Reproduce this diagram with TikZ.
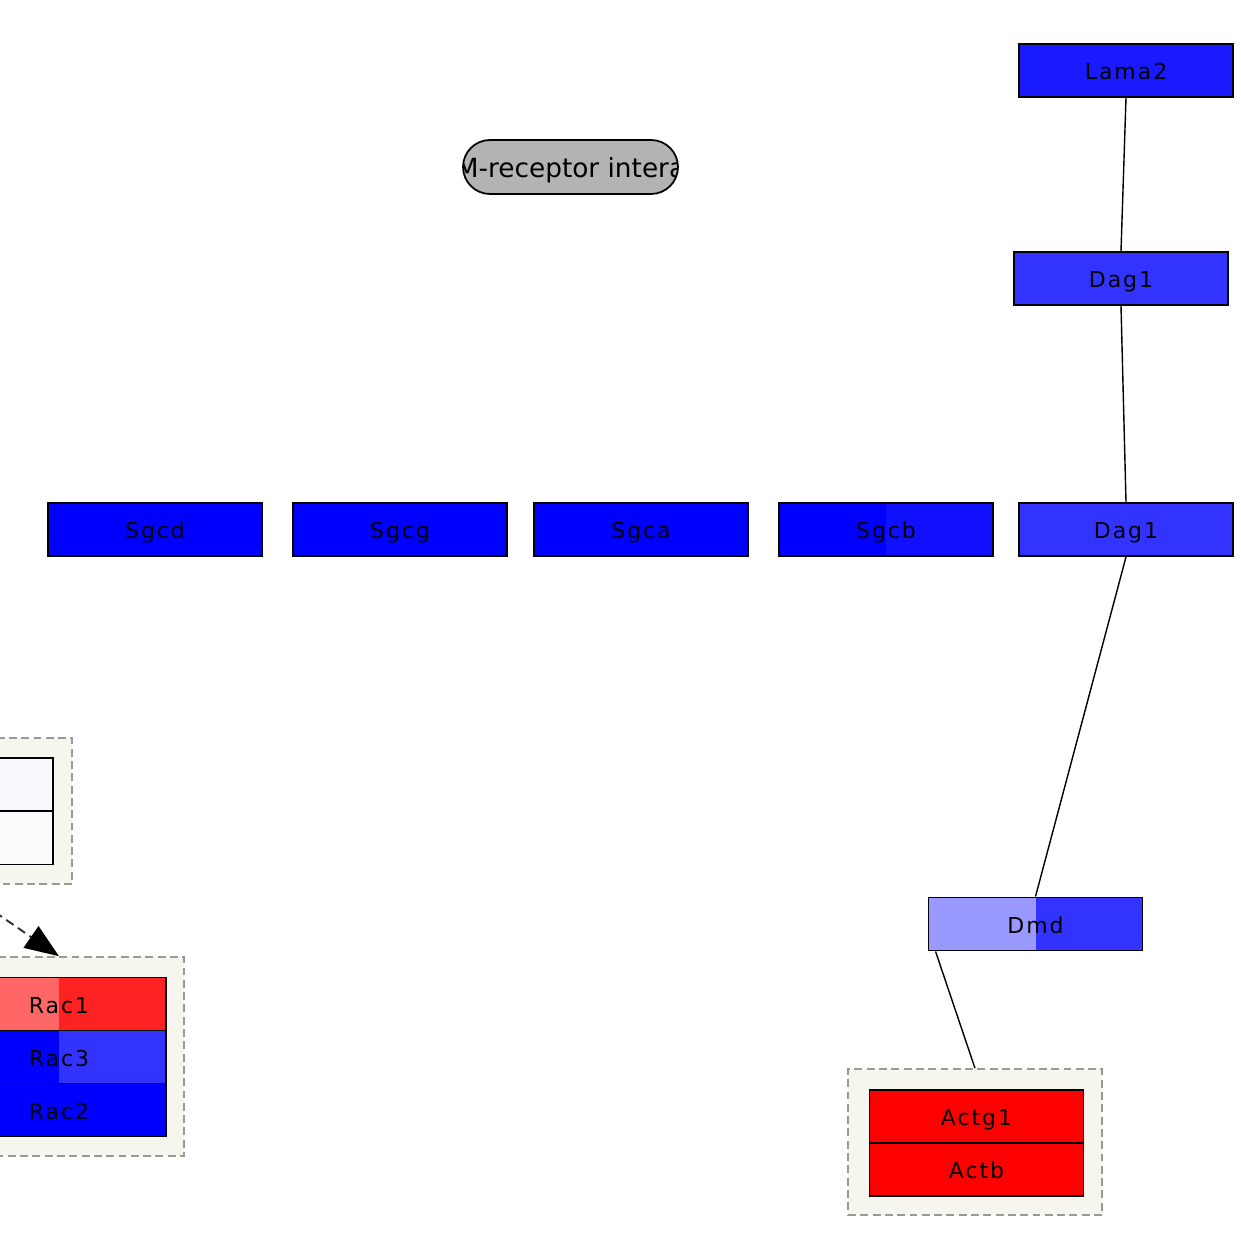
\documentclass[tikz,border=0pt]{standalone}
\usepackage{fontspec}
\setmainfont{DejaVu Sans}
\newfontfamily\genefont[LetterSpace=9]{DejaVu Sans}
\usetikzlibrary{arrows.meta,shapes.misc}

\definecolor{pureblue}{HTML}{0000FF}
\definecolor{lamablue}{HTML}{1A1AFF}
\definecolor{dagblue}{HTML}{3333FF}
\definecolor{sgcbblue}{HTML}{1010FF}
\definecolor{dmdpale}{HTML}{9999FF}
\definecolor{actred}{HTML}{FF0000}
\definecolor{racpale}{HTML}{FF6666}
\definecolor{racred}{HTML}{FF2222}
\definecolor{ghostlav}{HTML}{F8F8FF}
\definecolor{ghostgray}{HTML}{FBFBFB}
\definecolor{groupfill}{HTML}{F6F6EF}
\definecolor{groupline}{HTML}{999999}
\definecolor{pillgray}{HTML}{B3B3B3}

\tikzset{
  gene/.style={draw=black, line width=1.1pt, minimum width=4.28cm, minimum height=1.06cm,
    inner sep=0pt, text height=10.5pt, text depth=0pt,
    font=\genefont\fontsize{12.5}{14}\selectfont},
  lefthalf/.style={path picture={\fill[#1] (path picture bounding box.south west)
    rectangle (path picture bounding box.north);}},
  cluster/.style={draw=groupline, fill=groupfill, line width=0.9pt,
    dash pattern=on 4.5pt off 2.5pt, inner sep=0pt},
  link/.style={line width=0.8pt},
  pathway/.style={rounded rectangle, draw=black, line width=1pt, fill=pillgray,
    minimum width=4.3cm, minimum height=1.08cm, inner sep=0pt,
    path picture={\node[font=\fontsize{15}{17}\selectfont]
      at ([xshift=0.3cm,yshift=-0.06cm]path picture bounding box.center) {ECM-receptor interaction};}}
}

\begin{document}
\begin{tikzpicture}[x=0.02cm,y=-0.02cm]
\useasboundingbox (0,0) rectangle (1241,1236);
\clip (0,0) rectangle (1241,1236);

\node[pathway] (ecm) at (570.5,167) {};

\node[gene, fill=lamablue] (lama2) at (1126,70.5) {Lama2};
\node[gene, fill=dagblue] (dag1a) at (1121,278.5) {Dag1};
\node[gene, fill=dagblue] (dag1b) at (1126,529.5) {Dag1};
\node[gene, fill=pureblue] (sgcd) at (155,529.5) {Sgcd};
\node[gene, fill=pureblue] (sgcg) at (400,529.5) {Sgcg};
\node[gene, fill=pureblue] (sgca) at (641,529.5) {Sgca};
\node[gene, fill=sgcbblue, lefthalf=pureblue] (sgcb) at (886,529.5) {Sgcb};
\node[gene, fill=dagblue, lefthalf=dmdpale] (dmd) at (1035.5,924) {Dmd};

\node[cluster, minimum width=5.08cm, minimum height=2.92cm] (ghostgrp) at (-55,811) {};
\node[gene, fill=ghostlav] (ghosta) at (-54,784.5) {};
\node[gene, fill=ghostgray] (ghostb) at (-54,838) {};

\node[cluster, minimum width=5.0cm, minimum height=3.98cm] (racgrp) at (59,1056.5) {};
\node[gene, fill=racred, lefthalf=racpale] (rac1) at (59,1004) {Rac1};
\node[gene, fill=dagblue, lefthalf=pureblue] (rac3) at (59,1057) {Rac3};
\node[gene, fill=pureblue] (rac2) at (59,1110) {Rac2};

\node[cluster, minimum width=5.08cm, minimum height=2.92cm] (actgrp) at (975,1142) {};
\node[gene, fill=actred] (actg1) at (976.5,1116.5) {Actg1};
\node[gene, fill=actred] (actb) at (976.5,1169.5) {Actb};

\coordinate (racin) at (-40,888);

\draw[link] (lama2.south) -- (dag1a.north);
\draw[link] (dag1a.south) -- (dag1b.north);
\draw[link] (dag1b.south) -- (dmd.north);
\draw[link] ([xshift=0.16cm]dmd.south west) -- (actgrp.north);
\draw[link, line width=1.1pt, black!80, dash pattern=on 5pt off 3pt,
  -{Triangle[length=0.68cm,width=0.52cm,black]}] (racin) -- (racgrp.north);
\end{tikzpicture}
\end{document}
